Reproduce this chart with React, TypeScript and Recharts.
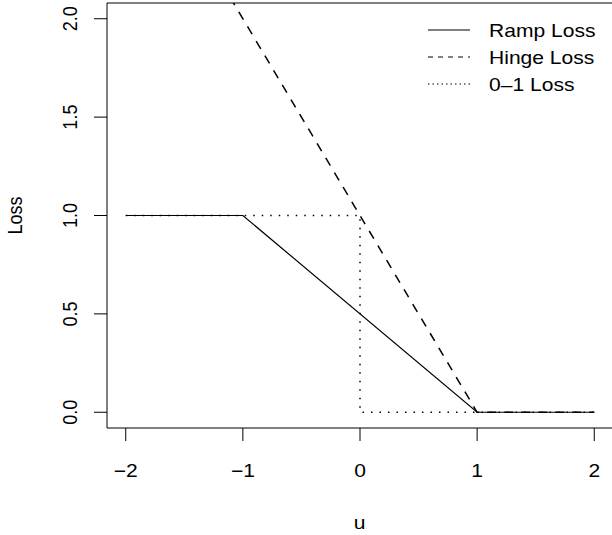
import { LineChart, Line, XAxis, YAxis, ReferenceLine } from "recharts";

// u values and loss values for each curve
const RAMP_U = [-2, -1, 1, 2];
const RAMP_LOSS = [1, 1, 0, 0];
const HINGE_U = [-2, 1, 2];
const HINGE_LOSS = [3, 0, 0];
const ZERO_ONE_U = [-2, 0, 0, 2];
const ZERO_ONE_LOSS = [1, 1, 0, 0];

const X_TICKS = [-2, -1, 0, 1, 2];
const Y_TICKS = [0, 0.5, 1, 1.5, 2];
const X_DOMAIN = [-2.16, 2.16];
const Y_DOMAIN = [-0.08, 2.08];

const LEGEND_NAMES = ["Ramp Loss", "Hinge Loss", "0\u20131 Loss"];
const LEGEND_DASH = [undefined, "5 5", "1.5 3"];

const ramp = RAMP_U.map((u, i) => ({ u, y: RAMP_LOSS[i] }));
const hinge = HINGE_U.map((u, i) => ({ u, y: HINGE_LOSS[i] }));
const zeroOne = ZERO_ONE_U.map((u, i) => ({ u, y: ZERO_ONE_LOSS[i] }));

const FONT = "'Liberation Sans', Arial, Helvetica, sans-serif";
const FS = 18;
const SX = 1.17;

const fmtX = (v: number) => (v < 0 ? "\u2212" + Math.abs(v) : String(v));

function XTick(props: any) {
  const { x, y, payload } = props;
  return (
    <text
      transform={`translate(${x},${y + 36}) scale(${SX},1)`}
      textAnchor="middle"
      fontSize={FS}
      fontFamily={FONT}
      fill="#000"
    >
      {fmtX(payload.value)}
    </text>
  );
}

function YTick(props: any) {
  const { x, y, payload } = props;
  return (
    <text
      transform={`translate(${x - 17},${y}) scale(${SX},1) rotate(-90)`}
      textAnchor="middle"
      fontSize={FS}
      fontFamily={FONT}
      fill="#000"
    >
      {payload.value.toFixed(1)}
    </text>
  );
}

function XTitle(props: any) {
  const vb = props.viewBox;
  return (
    <text
      transform={`translate(${vb.x + vb.width / 2 - 0.5},${vb.y + 101}) scale(${SX},1)`}
      textAnchor="middle"
      fontSize={FS}
      fontFamily={FONT}
      fill="#000"
    >
      u
    </text>
  );
}

function YTitle(props: any) {
  const vb = props.viewBox;
  return (
    <text
      transform={`translate(21.5,${vb.y + vb.height / 2}) scale(${SX},1) rotate(-90)`}
      textAnchor="middle"
      fontSize={FS}
      fontFamily={FONT}
      fill="#000"
    >
      Loss
    </text>
  );
}

function LegendBox() {
  return (
    <svg width={612} height={110} style={{ position: "absolute", left: 0, top: 0 }}>
      {LEGEND_NAMES.map((name, i) => {
        const y = 30 + i * 27;
        return (
          <g key={name}>
            <line x1={428} x2={470} y1={y} y2={y} stroke="#000" strokeWidth={1.2} strokeDasharray={LEGEND_DASH[i]} />
            <text
              transform={`translate(489,${y + 6.5}) scale(${SX},1)`}
              fontSize={FS}
              fontFamily={FONT}
              fill="#000"
            >
              {name}
            </text>
          </g>
        );
      })}
    </svg>
  );
}

export default function App() {
  return (
    <div
      style={{
        position: "absolute",
        left: 0,
        top: 0,
        width: 612,
        height: 535,
        overflow: "hidden",
        background: "#fff",
      }}
    >
      <LineChart width={620} height={535} margin={{ top: 3, right: 7, bottom: 0, left: 0 }}>
        <XAxis
          dataKey="u"
          type="number"
          domain={X_DOMAIN}
          ticks={X_TICKS}
          allowDataOverflow
          height={107}
          tickSize={13}
          tickMargin={0}
          axisLine={{ stroke: "#000" }}
          tickLine={{ stroke: "#000" }}
          tick={<XTick />}
          label={<XTitle />}
        />
        <YAxis
          type="number"
          domain={Y_DOMAIN}
          ticks={Y_TICKS}
          allowDataOverflow
          width={107}
          tickSize={13}
          tickMargin={0}
          axisLine={{ stroke: "#000" }}
          tickLine={{ stroke: "#000" }}
          tick={<YTick />}
          label={<YTitle />}
        />
        <ReferenceLine y={Y_DOMAIN[1]} stroke="#000" />
        <Line
          data={zeroOne}
          dataKey="y"
          name="0-1 Loss"
          type="linear"
          stroke="#000"
          strokeWidth={1.5}
          strokeDasharray="1.5 7"
          dot={false}
          activeDot={false}
          isAnimationActive={false}
        />
        <Line
          data={ramp}
          dataKey="y"
          name="Ramp Loss"
          type="linear"
          stroke="#000"
          strokeWidth={1.2}
          dot={false}
          activeDot={false}
          isAnimationActive={false}
        />
        <Line
          data={hinge}
          dataKey="y"
          name="Hinge Loss"
          type="linear"
          stroke="#000"
          strokeWidth={1.5}
          strokeDasharray="9 8"
          dot={false}
          activeDot={false}
          isAnimationActive={false}
        />
      </LineChart>
      <LegendBox />
    </div>
  );
}
